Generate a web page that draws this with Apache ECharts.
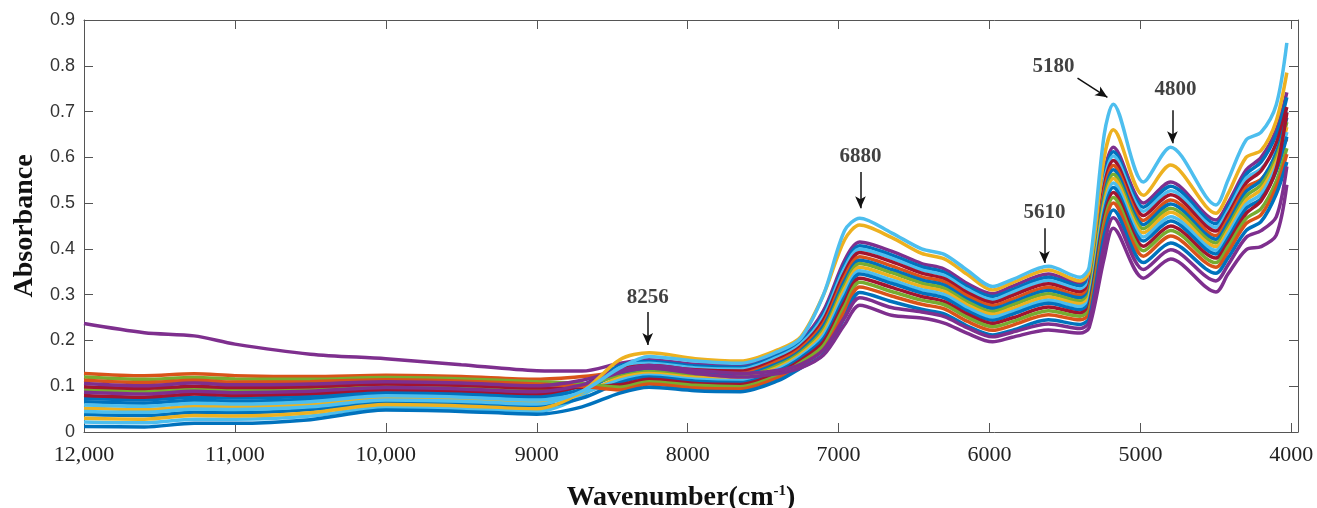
<!DOCTYPE html>
<html>
<head>
<meta charset="utf-8">
<script src="https://cdn.jsdelivr.net/npm/echarts@6/dist/echarts.min.js"></script>
<style>
  html, body { margin: 0; padding: 0; background: #fff; }
  #chart { width: 1317px; height: 508px; }
</style>
</head>
<body>
<div id="chart"></div>
<script>
// wavenumber grid (cm-1), spectra at these points
const wavenumbers = [12000, 11600, 11270, 11000, 10500, 10000, 9500, 9000, 8700,
  8450, 8256, 7950, 7650, 7400, 7250, 7100, 6960, 6860, 6650, 6450, 6300, 6150, 5980,
  5850, 5610, 5400, 5340, 5240, 5180, 4980, 4800, 4500, 4420, 4300, 4200, 4100, 4030];

const specOutlier = [.237, .217, .210, .192, .170, .160, .147, .134, .133,
  .150, .158, .148, .145, .172, .200, .265, .375, .415, .395, .368, .356, .325, .302,
  .318, .345, .325, .342, .565, .622, .500, .546, .463, .500, .572, .600, .660, .742];
const specB1 = [.073, .070, .076, .074, .078, .088, .085, .079, .102,
  .145, .154, .144, .141, .168, .196, .258, .366, .407, .387, .361, .349, .318, .296,
  .311, .338, .319, .335, .556, .612, .491, .537, .455, .492, .563, .590, .650, .731];
const specLB2 = [.022, .020, .028, .028, .035, .054, .051, .045, .079,
  .141, .150, .140, .137, .164, .192, .252, .358, .400, .380, .354, .342, .312, .289,
  .305, .331, .312, .329, .546, .603, .482, .527, .447, .483, .554, .575, .625, .700];
const specR3 = [.080, .076, .083, .080, .084, .093, .090, .084, .102,
  .136, .145, .136, .133, .159, .187, .245, .349, .392, .372, .347, .335, .305, .283,
  .298, .324, .306, .322, .537, .593, .473, .518, .439, .475, .544, .571, .631, .710];
const specO4 = [.128, .123, .127, .123, .121, .124, .121, .115, .121,
  .131, .141, .131, .128, .155, .183, .237, .339, .383, .363, .339, .328, .298, .276,
  .290, .316, .299, .315, .526, .582, .462, .507, .429, .465, .534, .552, .600, .640];
const specB5 = [.066, .063, .069, .067, .072, .083, .080, .074, .093,
  .127, .136, .127, .124, .150, .178, .231, .330, .375, .355, .332, .321, .291, .270,
  .283, .309, .293, .308, .516, .573, .453, .498, .421, .457, .525, .550, .610, .687];
const specG6 = [.093, .089, .095, .091, .094, .101, .098, .092, .103,
  .122, .132, .123, .120, .146, .174, .224, .321, .368, .348, .325, .314, .285, .263,
  .277, .302, .286, .302, .507, .563, .444, .489, .413, .448, .515, .540, .600, .677];
const specY7 = [.052, .049, .056, .055, .060, .074, .071, .065, .084,
  .118, .128, .119, .116, .142, .170, .218, .313, .360, .340, .318, .307, .278, .257,
  .270, .295, .280, .295, .498, .554, .435, .480, .405, .440, .506, .530, .590, .666];
const specLB8 = [.059, .056, .063, .061, .066, .079, .076, .070, .085,
  .113, .124, .115, .112, .138, .166, .211, .304, .352, .332, .311, .300, .272, .251,
  .263, .288, .274, .288, .488, .544, .426, .470, .397, .432, .497, .520, .580, .655];
const specB9 = [.038, .036, .043, .042, .049, .065, .062, .056, .074,
  .108, .120, .111, .108, .134, .162, .204, .295, .345, .325, .304, .293, .265, .244,
  .257, .281, .267, .282, .479, .534, .417, .461, .389, .423, .488, .510, .570, .645];
const specR10 = [.099, .095, .100, .097, .099, .105, .102, .096, .098,
  .103, .115, .106, .104, .129, .157, .197, .285, .336, .316, .296, .285, .258, .237,
  .249, .273, .260, .274, .468, .523, .406, .450, .380, .414, .477, .505, .575, .698];
const specG11 = [.120, .115, .119, .116, .115, .119, .116, .110, .106,
  .098, .110, .102, .099, .124, .152, .189, .275, .327, .307, .288, .278, .251, .230,
  .241, .265, .253, .267, .457, .512, .396, .440, .370, .404, .466, .488, .548, .620];
const specO12 = [.113, .108, .113, .109, .110, .114, .111, .105, .100,
  .092, .105, .096, .094, .119, .147, .180, .264, .317, .297, .279, .269, .242, .222,
  .233, .256, .245, .258, .445, .500, .384, .428, .360, .393, .455, .475, .535, .607];
const specB13 = [.012, .011, .019, .019, .027, .048, .045, .039, .055,
  .085, .098, .090, .088, .112, .140, .170, .250, .305, .285, .268, .258, .232, .212,
  .222, .245, .235, .248, .430, .485, .370, .413, .347, .380, .440, .460, .520, .590];
const specP14 = [.106, .101, .107, .103, .105, .110, .107, .101, .113,
  .135, .145, .135, .128, .135, .148, .180, .250, .293, .272, .262, .252, .228, .208,
  .218, .236, .226, .240, .410, .468, .355, .398, .330, .365, .425, .440, .470, .580];
const specP15 = [.087, .083, .089, .086, .089, .097, .094, .088, .103,
  .130, .140, .128, .120, .128, .140, .168, .235, .277, .255, .249, .238, .216, .197,
  .207, .223, .216, .228, .380, .445, .336, .378, .306, .345, .398, .405, .430, .540];
const specY16 = [.030, .028, .036, .035, .042, .060, .057, .051, .088,
  .158, .173, .160, .155, .180, .208, .300, .420, .452, .425, .390, .378, .345, .310,
  .326, .354, .330, .350, .600, .660, .517, .583, .478, .520, .600, .615, .680, .785];
const specLB17 = [.045, .043, .050, .049, .055, .070, .067, .061, .089,
  .140, .165, .155, .150, .176, .205, .300, .440, .467, .435, .400, .388, .354, .318,
  .333, .362, .338, .360, .650, .716, .546, .622, .496, .550, .638, .655, .715, .850];

const spectra = [specOutlier, specB1, specLB2, specR3, specO4, specB5, specG6, specY7, specLB8,
  specB9, specR10, specG11, specO12, specB13, specP14, specP15, specY16, specLB17];
const spectrumColors = ['#7E2F8E', '#0072BD', '#4DBEEE', '#A2142F', '#D95319', '#0072BD',
  '#77AC30', '#EDB120', '#4DBEEE', '#0072BD', '#A2142F', '#77AC30', '#D95319', '#0072BD',
  '#7E2F8E', '#7E2F8E', '#EDB120', '#4DBEEE'];

const xTicks = [12000, 11000, 10000, 9000, 8000, 7000, 6000, 5000, 4000];
const xTickLabels = ['12,000', '11,000', '10,000', '9000', '8000', '7000', '6000', '5000', '4000'];

// peak annotations: label, text anchor [wn, abs], arrow [from wn, from abs, to wn, to abs]
const peakLabels = ['8256', '6880', '5610', '5180', '4800'];
const peakText = [[8265, .293], [6855, .601], [5636, .479], [5576, .798], [4768, .748]];
const peakArrows = [
  [8265, .262, 8265, .190],
  [6855, .568, 6855, .489],
  [5636, .445, 5636, .369],
  [5417, .773, 5219, .731],
  [4788, .703, 4788, .631],
];

const chart = echarts.init(document.getElementById('chart'), null, { renderer: 'canvas' });

const axisColor = '#555';
const sansFont = 'Liberation Sans';
const serifFont = 'Liberation Serif';
const tickLabel = (v) => xTickLabels[xTicks.indexOf(v)] ?? '';

const xBase = {
  type: 'value',
  inverse: true,
  min: 3956,
  max: 12000,
  axisLine: { show: true, onZero: false, lineStyle: { color: axisColor, width: 1 } },
  axisTick: { show: true, inside: true, length: 9, customValues: xTicks, lineStyle: { color: axisColor } },
  splitLine: { show: false },
};
const yBase = {
  type: 'value',
  min: 0,
  max: 0.9,
  interval: 0.1,
  axisLine: { show: true, lineStyle: { color: axisColor, width: 1 } },
  axisTick: { show: true, inside: true, length: 9, lineStyle: { color: axisColor } },
  splitLine: { show: false },
};

const lineSeries = spectra.map((values, i) => ({
  type: 'line',
  data: wavenumbers.map((w, j) => [w, values[j]]),
  showSymbol: false,
  smooth: 0.3,
  silent: true,
  lineStyle: { width: 3.5, color: spectrumColors[i] },
  itemStyle: { color: spectrumColors[i] },
}));

const arrowSeries = {
  type: 'line',
  data: [],
  silent: true,
  markLine: {
    silent: true,
    symbol: ['none', 'arrow'],
    symbolSize: [8, 12],
    label: { show: false },
    lineStyle: { color: '#111', width: 1.5, type: 'solid' },
    data: peakArrows.map((a) => [{ coord: [a[0], a[1]] }, { coord: [a[2], a[3]] }]),
  },
};

const textSeries = {
  type: 'scatter',
  symbolSize: 1,
  silent: true,
  itemStyle: { color: 'transparent' },
  data: peakText.map((p, i) => ({ value: p, name: peakLabels[i] })),
  label: {
    show: true,
    position: 'inside',
    formatter: (p) => p.name,
    fontFamily: serifFont,
    fontWeight: 'bold',
    fontSize: 21,
    color: '#111',
  },
};

chart.setOption({
  animation: false,
  backgroundColor: '#fff',
  grid: { left: 84, right: 19, top: 20, bottom: 76, containLabel: false, outerBoundsMode: 'none' },
  xAxis: [
    {
      ...xBase,
      position: 'bottom',
      name: 'Wavenumber(cm{sup|-1})',
      nameLocation: 'middle',
      nameGap: 52,
      nameTextStyle: {
        fontFamily: serifFont,
        fontWeight: 'bold',
        fontSize: 28,
        color: '#111',
        padding: [0, 20, 0, 0],
        rich: {
          sup: { fontFamily: serifFont, fontWeight: 'bold', fontSize: 15, verticalAlign: 'top', color: '#111', padding: [0, 0, 12, 0] },
        },
      },
      axisLabel: {
        show: true,
        customValues: xTicks,
        formatter: tickLabel,
        margin: 12,
        fontFamily: serifFont,
        fontSize: 22,
        color: '#222',
      },
    },
    { ...xBase, position: 'top', axisLabel: { show: false } },
  ],
  yAxis: [
    {
      ...yBase,
      position: 'left',
      name: 'Absorbance',
      nameLocation: 'middle',
      nameGap: 40,
      nameTextStyle: { fontFamily: serifFont, fontWeight: 'bold', fontSize: 28, color: '#111' },
      axisLabel: {
        margin: 9,
        fontFamily: sansFont,
        fontSize: 18,
        color: '#333',
        formatter: (v) => (Math.round(v * 10) / 10).toString(),
      },
    },
    { ...yBase, position: 'right', axisLabel: { show: false } },
  ],
  series: [...lineSeries, arrowSeries, textSeries],
});
</script>
</body>
</html>
